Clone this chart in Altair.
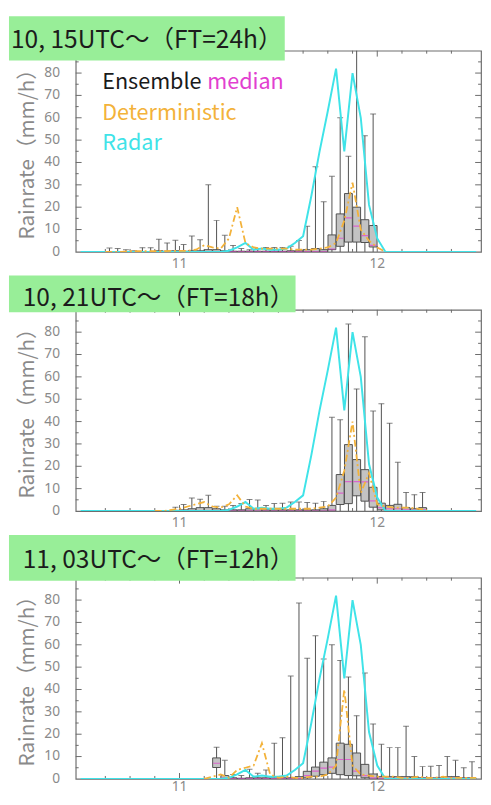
import altair as alt
import pandas as pd

# ---------------- data (hours since 10 12UTC) ----------------
X_DOMAIN = [0, 48]
Y_DOMAIN = [0, 90]
X_LABEL_HOURS = [12, 36]
X_LABEL_TEXT = ["11", "12"]
X_MINOR_TICKS = [3, 6, 9, 15, 18, 21, 24, 27, 30, 33, 39, 42, 45]
X_MAJOR_TICKS = [12, 36]
Y_LABELS = [0, 10, 20, 30, 40, 50, 60, 70, 80]
Y_MAJOR_TICKS = [10, 20, 30, 40, 50, 60, 70, 80]
Y_MINOR_TICKS = [5, 15, 25, 35, 45, 55, 65, 75, 85]

TITLES = ["10, 15UTC～（FT=24h）", "10, 21UTC～（FT=18h）", "11, 03UTC～（FT=12h）"]
Y_TITLE = "Rainrate（mm/h）"
LEGEND_LABELS = ["Ensemble", "median", "Deterministic", "Radar"]

RADAR_T = list(range(0, 49))
RADAR_V = [0] * 18 + [0.5, 2, 4, 1, 1.5, 1, 1, 1.5, 4, 7, 25, 45, 63, 82, 45, 80, 60, 21, 6, 0] + [0] * 11

# panel 1 (10 15UTC)
P1_T = [3.5 + i for i in range(33)]
P1_HI = [1.7, 1.5, 1.0, 0.5, 1.9, 1.9, 5.7, 4.0, 5.2, 3.3, 7.1, 5.4, 30, 14.1, 7.4, 2.9, 1.5,
         1.0, 1.5, 2.0, 2.0, 2.0, 2.5, 5.1, 11.5, 38.1, 22.4, 33.8, 60, 42.8, 95, 52, 61.7]
P1_Q1 = [0] * 27 + [1.0, 2.5, 4.4, 4.4, 4.2, 2.2]
P1_Q3 = [0, 0, 0, 0, 0, 0, 0.5, 0.3, 0.5, 0.3, 0.5, 0.5, 1.0, 1.0, 0.5, 0.3, 0.3, 0.3, 0.3,
         0.3, 0.3, 0.3, 0.5, 0.5, 1.0, 1.5, 1.0, 7.6, 17, 26.1, 20, 14.4, 11.8]
P1_MED = [0] * 27 + [1.3, 6.1, 15.2, 11.5, 7.3, 2.9]
P1_DET_T = list(range(3, 38))
P1_DET_V = [0, 0, 0, 0.3, 0.3, 0.3, 0.3, 0.3, 0.5, 0.5, 0.5, 1, 3, 2, 1.5, 6, 20, 4, 2, 1.5,
            1.5, 1.5, 1.5, 1, 1, 1, 1.5, 2, 4, 14, 31, 10, 5, 2, 0]

# panel 2 (10 21UTC)
P2_T = [11.5 + i for i in range(31)]
P2_HI = [1.7, 2.9, 5.8, 5.3, 7.0, 2.1, 2.1, 2.5, 3.3, 5.1, 4.9, 2.5, 3.3, 3.5, 4.0, 4.0, 3.8,
         3.5, 4.3, 41.9, 40.8, 83.6, 54.6, 77.9, 44.7, 48, 39.3, 21.8, 8.3, 7.3, 8.3]
P2_Q1 = [0] * 20 + [2.9, 3.3, 6.8, 4.4, 1.7, 0.5] + [0] * 5
P2_Q3 = [0.3, 0.5, 1.0, 1.5, 1.5, 1.0, 0.5, 0.5, 0.5, 1.0, 1.0, 0.5, 0.5, 0.5, 0.5, 0.5, 0.5,
         0.5, 1.0, 2.5, 16.3, 29.7, 23, 18.5, 10.6, 3.5, 2.5, 3.0, 1.5, 1.0, 1.5]
P2_MED = [0] * 19 + [0.5, 8, 13.1, 13.1, 13, 4.5, 1.5, 1.0, 1.0, 0.5, 0.3, 0.5]
P2_DET_T = list(range(9, 43))
P2_DET_V = [0, 0, 0.5, 1, 2, 3, 4, 2, 1.5, 3, 7, 2, 1, 1, 1, 1, 1, 1, 1, 1, 1.5, 2, 6, 18, 40,
            8, 17, 3, 2, 1.5, 1.5, 1.5, 1, 0.5]

# panel 3 (11 03UTC)
P3_T = [16.5 + i for i in range(32)]
P3_HI = [14.2, 8.3, 2.0, 1.5, 4.3, 2.5, 4.0, 16, 18.4, 46, 78.7, 54, 64, 53.6, 60, 53, 45.6,
         28.3, 47.4, 24.6, 15.5, 14, 14, 23.6, 10, 5.5, 5.7, 6, 10, 8.3, 5, 7.7]
P3_Q1 = [5.1] + [0] * 10 + [0.5, 1.2, 1.9, 2.5, 1.9, 1.5, 1.4, 0.5] + [0] * 13
P3_Q3 = [9.4, 1.5, 0.5, 0.3, 0.5, 0.5, 0.5, 0.5, 0.5, 0.5, 1.0, 3.4, 5.3, 7.5, 9.4, 16, 15.5,
         11.6, 6.5, 2.2, 1.0, 1.0, 1.0, 1.0, 1.0, 0.5, 0.5, 0.5, 1.0, 1.0, 0.5, 0.5]
P3_MED = [7, 0.5] + [0] * 8 + [0.2, 1.5, 3.5, 4.8, 5.3, 8.7, 8.7, 3.5, 1.5, 0.5] + [0.3] * 12
P3_DET_T = list(range(15, 49))
P3_DET_V = [0, 1, 2, 0.5, 4, 5, 6, 16, 2, 0.5, 1, 0.5, 0.5, 1, 1, 2, 6, 40, 6, 2, 1.5, 1, 1, 1,
            0.5, 0.5, 1, 0.5, 0.5, 1, 0.5, 0.5, 0.5, 0.5]

# ---------------- style ----------------
W, H = 413, 205
GREEN = "#98ee98"
MAGENTA = "#e23fd0"
ORANGE = "#f3b23a"
CYAN = "#3fe3e8"
BOX_FILL = "#c3c3c3"
DARK = "#505050"
TICK = "#6a6a6a"
AXIS_GRAY = "#8a8a8a"
FONT = "Noto Sans"
JP = "Noto Sans CJK JP"

xs = alt.Scale(domain=X_DOMAIN, nice=False, zero=False)
ys = alt.Scale(domain=Y_DOMAIN, nice=False)


def X(field):
    return alt.X(field, scale=xs, axis=None)


def Y(field):
    return alt.Y(field, scale=ys, axis=None)


RADAR_DF = pd.DataFrame({"t": RADAR_T, "v": RADAR_V})
XLAB_DF = pd.DataFrame({"t": X_LABEL_HOURS, "label": X_LABEL_TEXT})
YLAB_DF = pd.DataFrame({"v": Y_LABELS})
YTITLE_DF = pd.DataFrame({"label": [Y_TITLE]})


def guide_layers(xlab_off):
    out = []
    for vals, ln in ((X_MINOR_TICKS, 3), (X_MAJOR_TICKS, 6)):
        d = pd.DataFrame({"t": vals})
        out.append(alt.Chart(d).mark_rule(color=TICK).encode(
            x=X("t:Q"), y=alt.value(H), y2=alt.value(H - ln)))
        out.append(alt.Chart(d).mark_rule(color=TICK).encode(
            x=X("t:Q"), y=alt.value(0), y2=alt.value(ln)))
    for vals, ln in ((Y_MINOR_TICKS, 3), (Y_MAJOR_TICKS, 6)):
        d = pd.DataFrame({"v": vals})
        out.append(alt.Chart(d).mark_rule(color=TICK).encode(
            y=Y("v:Q"), x=alt.value(0), x2=alt.value(ln)))
        out.append(alt.Chart(d).mark_rule(color=TICK).encode(
            y=Y("v:Q"), x=alt.value(W), x2=alt.value(W - ln)))
    out.append(alt.Chart(XLAB_DF).mark_text(align="center", baseline="top", fontSize=14,
                                            font=FONT, color=AXIS_GRAY).encode(
        x=X("t:Q"), y=alt.value(H + xlab_off), text="label:N"))
    out.append(alt.Chart(YLAB_DF).mark_text(align="right", baseline="middle", fontSize=14,
                                            font=FONT, color=AXIS_GRAY).encode(
        y=Y("v:Q"), x=alt.value(-16), text="v:Q"))
    out.append(alt.Chart(YTITLE_DF).mark_text(align="center", baseline="middle", angle=270,
                                              fontSize=21, font=JP, color=AXIS_GRAY).encode(
        x=alt.value(-49), y=alt.value(H / 2 - 2), text="label:N"))
    return out


def panel(t, hi, q1, q3, med, det_t, det_v, title, box, text_pos, legend, xlab_off):
    ens = pd.DataFrame({"t": t, "hi": hi, "q1": q1, "q3": q3, "med": med})
    det = pd.DataFrame({"t": det_t, "v": det_v})
    base = alt.Chart(ens)
    whisk = base.mark_rule(color=DARK, strokeWidth=1, clip=True).encode(
        x=X("t:Q"), y=Y("hi:Q"), y2=alt.datum(0))
    cap = base.mark_tick(orient="horizontal", size=6, thickness=1, color=DARK, clip=True).encode(
        x=X("t:Q"), y=Y("hi:Q"))
    boxes = base.mark_bar(size=8, fill=BOX_FILL, stroke=DARK, strokeWidth=1, clip=True).encode(
        x=X("t:Q"), y=Y("q1:Q"), y2="q3:Q")
    medl = base.mark_tick(orient="horizontal", size=7, thickness=1.2, color=MAGENTA, clip=True).encode(
        x=X("t:Q"), y=Y("med:Q"))
    radar = alt.Chart(RADAR_DF).mark_line(color=CYAN, strokeWidth=2, clip=True).encode(
        x=X("t:Q"), y=Y("v:Q"))
    detl = alt.Chart(det).mark_line(color=ORANGE, strokeWidth=1.8, strokeDash=[7, 3, 2, 3],
                                     clip=True).encode(x=X("t:Q"), y=Y("v:Q"))
    tdf = pd.DataFrame({"label": [title]})
    rect = alt.Chart(tdf).mark_rect(color=GREEN).encode(
        x=alt.value(box[0]), x2=alt.value(box[1]), y=alt.value(box[2]), y2=alt.value(box[3]))
    ttext = alt.Chart(tdf).mark_text(align="left", baseline="alphabetic", fontSize=25, font=JP,
                                     color="#1c1c1c").encode(
        x=alt.value(text_pos[0]), y=alt.value(text_pos[1]), text="label:N")
    layers = [whisk] + guide_layers(xlab_off) + [boxes, medl, cap, radar, detl, rect, ttext]
    if legend:
        items = [(LEGEND_LABELS[0], "#1a1a1a", 27, 39), (LEGEND_LABELS[1], MAGENTA, 134, 39),
                 (LEGEND_LABELS[2], ORANGE, 27, 70.5), (LEGEND_LABELS[3], CYAN, 27, 101)]
        for lab, col, lx, ly in items:
            layers.append(alt.Chart(pd.DataFrame({"label": [lab]})).mark_text(
                align="left", baseline="alphabetic", fontSize=22, font=JP, color=col).encode(
                x=alt.value(lx), y=alt.value(ly), text="label:N"))
    return alt.layer(*layers).properties(width=W, height=H)


p1 = panel(P1_T, P1_HI, P1_Q1, P1_Q3, P1_MED, P1_DET_T, P1_DET_V, TITLES[0],
           (-68, 213, -35, 10), (-66, -3), True, 5)
p2 = panel(P2_T, P2_HI, P2_Q1, P2_Q3, P2_MED, P2_DET_T, P2_DET_V, TITLES[1],
           (-68, 224, -35, 2.5), (-54, -4), False, 5)
p3 = panel(P3_T, P3_HI, P3_Q1, P3_Q3, P3_MED, P3_DET_T, P3_DET_V, TITLES[2],
           (-68, 224, -43.5, 3), (-54, -10), False, 1)

chart = alt.vconcat(p1, p2, p3, spacing=3, padding=0).configure_view(
    stroke="#6e6e6e", strokeWidth=1.2)

chart.save("out.html", embed_options={"renderer": "svg", "actions": False})
